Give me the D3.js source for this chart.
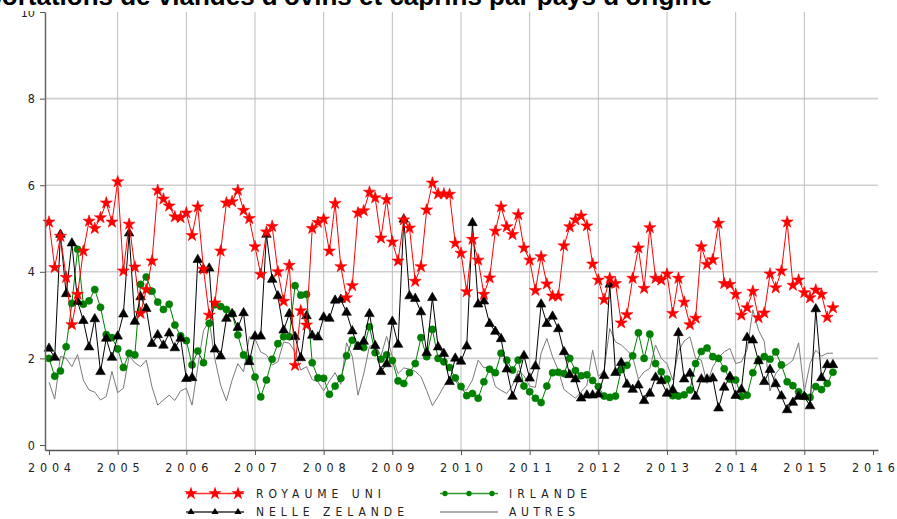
<!DOCTYPE html>
<html>
<head>
<meta charset="utf-8">
<script src="https://cdn.jsdelivr.net/npm/d3@7"></script>
<style>
  body { margin: 0; background: #fff; }
  svg { display: block; }
  .axis text { font-family: 'DejaVu Sans Condensed', 'DejaVu Sans', sans-serif; font-stretch: condensed; fill: #222; }
  .legend text { font-family: 'DejaVu Sans Condensed', 'DejaVu Sans', sans-serif; font-stretch: condensed; fill: #222; }
</style>
</head>
<body>
<div id="chart"></div>
<script>
// monthly values, Jan 2004 -> Jun 2015
const ukValues = [
  5.15, 4.10, 4.82, 3.87, 2.78, 3.48, 4.48, 5.17, 5.00, 5.25, 5.59, 5.15, 6.08, 4.02, 5.10, 4.11, 3.04, 3.59, 4.25, 5.88, 5.68, 5.52, 5.27,
  5.25, 5.36, 4.84, 5.50, 4.06, 3.00, 3.28, 4.48, 5.59, 5.62, 5.88, 5.42, 5.23, 4.58, 3.94, 4.92, 5.05, 4.00, 3.32, 4.15, 1.84, 3.10, 2.77,
  5.00, 5.14, 5.22, 4.48, 5.58, 4.12, 3.40, 3.68, 5.36, 5.41, 5.84, 5.71, 4.78, 5.67, 4.69, 4.25, 5.20, 5.01, 3.78, 4.12, 5.43, 6.05, 5.80, 5.80,
  5.79, 4.66, 4.43, 3.54, 4.75, 4.27, 3.48, 3.86, 4.94, 5.50, 5.04, 4.86, 5.32, 4.55, 4.27, 3.57, 4.35, 3.72, 3.44, 3.44, 4.60, 5.04, 5.20, 5.29,
  5.06, 4.18, 3.81, 3.36, 3.85, 3.73, 2.82, 3.01, 3.85, 4.55, 3.62, 5.02, 3.85, 3.81, 3.95, 3.04, 3.85, 3.30, 2.78, 2.93, 4.58, 4.17, 4.28,
  5.12, 3.73, 3.71, 3.48, 3.00, 3.17, 3.55, 2.94, 3.05, 3.95, 3.63, 4.02, 5.15, 3.69, 3.81, 3.52, 3.40, 3.58, 3.48, 2.95, 3.17
];
const nzValues = [
  2.23, 2.02, 4.86, 3.49, 4.66, 3.31, 2.87, 2.26, 2.91, 1.69, 2.46, 2.02, 2.51, 3.02, 4.89, 2.85, 3.42, 3.15, 2.34, 2.54, 2.30, 2.58, 2.24,
  2.46, 1.53, 1.55, 4.28, 4.05, 4.08, 2.21, 2.05, 2.92, 3.03, 2.71, 3.05, 1.92, 2.51, 2.51, 4.86, 3.82, 3.44, 2.65, 3.03, 2.50, 2.01, 2.98,
  2.53, 2.49, 2.95, 2.92, 3.34, 3.36, 3.06, 2.63, 2.27, 2.39, 3.03, 2.29, 1.69, 1.87, 2.85, 2.32, 5.21, 3.44, 3.38, 3.07, 2.13, 3.40, 2.26, 2.11,
  1.46, 2.00, 1.93, 2.28, 5.13, 3.25, 3.32, 2.80, 2.62, 2.45, 1.75, 1.12, 1.52, 2.06, 1.54, 1.82, 3.25, 2.80, 2.97, 2.68, 2.15, 1.62, 1.52, 1.08,
  1.15, 1.15, 1.17, 1.60, 3.71, 1.67, 1.90, 1.40, 1.28, 1.38, 1.02, 1.19, 1.56, 1.48, 1.19, 1.27, 2.59, 1.52, 1.65, 1.12, 1.52, 1.52, 1.54,
  0.85, 1.33, 1.58, 1.14, 1.28, 2.48, 2.42, 1.94, 1.46, 1.74, 1.41, 1.13, 0.81, 0.98, 1.12, 1.12, 0.90, 3.14, 1.55, 1.85, 1.85
];
const ieValues = [
  2.00, 1.59, 1.71, 2.27, 3.27, 4.52, 3.25, 3.33, 3.59, 3.18, 2.55, 2.48, 2.22, 1.79, 2.12, 2.08, 3.71, 3.88, 3.55, 3.30, 3.13, 3.25, 2.77,
  2.52, 2.41, 1.85, 2.17, 1.90, 2.81, 3.24, 3.20, 3.13, 3.03, 2.54, 2.08, 1.99, 1.57, 1.11, 1.50, 1.98, 2.34, 2.50, 2.50, 3.68, 3.46, 3.48,
  1.90, 1.55, 1.54, 1.17, 1.36, 1.54, 2.06, 2.42, 2.29, 2.25, 2.73, 2.13, 1.98, 2.08, 1.95, 1.48, 1.42, 1.67, 1.88, 2.48, 2.04, 2.67, 2.00, 1.92,
  1.79, 1.55, 1.35, 1.14, 1.19, 1.08, 1.46, 1.75, 1.67, 2.12, 1.96, 1.73, 1.96, 1.36, 1.23, 1.08, 0.98, 1.36, 1.67, 1.68, 1.65, 2.00, 1.72, 1.60,
  1.62, 1.49, 1.35, 1.13, 1.10, 1.13, 1.74, 1.84, 2.06, 2.59, 2.00, 2.56, 1.88, 1.69, 1.52, 1.14, 1.13, 1.16, 1.27, 1.88, 2.16, 2.24, 2.04,
  2.00, 1.76, 1.52, 1.50, 1.12, 1.15, 1.67, 1.95, 2.04, 1.98, 2.15, 1.85, 1.46, 1.37, 1.23, 1.12, 1.10, 1.35, 1.28, 1.42, 1.68
];
const otherValues = [
  1.45, 1.06, 2.05, 2.00, 1.81, 2.09, 1.50, 1.27, 1.22, 1.04, 1.12, 1.70, 1.21, 1.31, 2.06, 1.90, 1.81, 1.96, 1.34, 0.92, 1.04, 1.15, 1.03,
  1.25, 1.31, 0.92, 1.81, 2.64, 2.87, 1.98, 1.38, 1.02, 1.50, 1.88, 1.69, 2.50, 2.45, 2.15, 2.08, 1.85, 1.92, 2.38, 2.35, 2.15, 1.73, 1.81,
  1.51, 1.46, 1.25, 1.48, 1.67, 1.40, 2.36, 2.05, 1.15, 1.64, 2.28, 2.33, 2.05, 2.51, 2.04, 1.65, 1.78, 1.75, 1.70, 1.58, 1.26, 0.91, 1.12, 1.35,
  1.54, 1.50, 1.27, 1.27, 1.50, 1.96, 1.78, 1.82, 1.35, 1.26, 1.19, 1.38, 1.72, 1.60, 1.36, 1.33, 2.12, 2.46, 2.04, 1.73, 1.28, 1.18, 1.08, 1.23,
  1.38, 2.19, 1.58, 1.73, 2.69, 2.38, 2.31, 2.19, 2.04, 1.52, 1.69, 1.77, 2.31, 2.00, 1.88, 1.50,
  2.17, 2.40, 2.50, 2.00, 1.96, 1.42, 1.80, 2.02, 2.15, 2.23, 1.88, 1.92, 2.20, 3.12, 2.65, 2.39, 1.25, 1.65, 1.81, 1.85, 1.96, 2.36, 1.23, 1.88, 2.19, 2.05, 2.12, 2.12
];
const seriesNames = ['ROYAUME UNI', 'NELLE ZELANDE', 'IRLANDE', 'AUTRES'];
const yearTicks = d3.range(2004, 2017);
const yTicks = [0, 2, 4, 6, 8, 10];
const title = "Importations de viandes d'ovins et caprins par pays d'origine";

const width = 897,
  height = 519;

const svg = d3.select('#chart').append('svg').attr('width', width).attr('height', height);

const x = d3.scaleLinear().domain([2004 - 4 / 68.67, 2016 + 5 / 68.67]).range([45, 878]);
const y = d3.scaleLinear().domain([-5 / 43.35, 10]).range([450, 12]);
const monthX = (d, i) => x(2004 + i / 12);

const series = [
  { name: seriesNames[0], values: ukValues, color: '#ff0000', marker: 'star' },
  { name: seriesNames[1], values: nzValues, color: '#000000', marker: 'triangle' },
  { name: seriesNames[2], values: ieValues, color: '#008000', marker: 'circle' },
  { name: seriesNames[3], values: otherValues, color: '#7a7a7a', marker: null }
];

const symbols = {
  star: d3.symbol().type(d3.symbolStar).size(45),
  triangle: d3.symbol().type(d3.symbolTriangle).size(40),
  circle: d3.symbol().type(d3.symbolCircle).size(40)
};

// grid
const grid = svg.append('g');
grid.selectAll('.hgrid')
  .data([2, 4, 6, 8])
  .join('line')
  .attr('class', 'hgrid')
  .attr('x1', 45).attr('x2', 878)
  .attr('y1', d => y(d)).attr('y2', d => y(d))
  .attr('stroke', '#cfcfcf').attr('stroke-width', 1.6);
grid.selectAll('.vgrid')
  .data(d3.range(2005, 2016))
  .join('line')
  .attr('class', 'vgrid')
  .attr('x1', d => x(d)).attr('x2', d => x(d))
  .attr('y1', y(10)).attr('y2', 450)
  .attr('stroke', '#bdbdbd').attr('stroke-width', 1);

// lines, drawn back to front
const plot = svg.append('g');
const line = d3.line().x(monthX).y(d => y(d));
series.slice().reverse().forEach(s => {
  const g = plot.append('g');
  g.append('path')
    .datum(s.values)
    .attr('d', line)
    .attr('fill', 'none')
    .attr('stroke', s.color)
    .attr('stroke-width', 1);
  if (s.marker) {
    g.selectAll('path.mark')
      .data(s.values)
      .join('path')
      .attr('class', 'mark')
      .attr('transform', (d, i) => `translate(${monthX(d, i)},${y(d)})`)
      .attr('d', symbols[s.marker]())
      .attr('fill', s.color)
      .attr('stroke', s.color)
      .attr('stroke-width', 0.6);
  }
});

// axes
const xAxis = svg.append('g')
  .attr('class', 'axis')
  .attr('transform', 'translate(0,450)')
  .call(d3.axisBottom(x).tickValues(yearTicks).tickSize(5).tickSizeOuter(0).tickFormat(d3.format('d')));
xAxis.select('.domain').attr('stroke', '#555').attr('stroke-width', 1.5);
xAxis.selectAll('.tick line').attr('stroke', '#555');
xAxis.selectAll('.tick text')
  .attr('y', 22).attr('dy', 0)
  .attr('font-size', 12.5)
  .attr('textLength', 43).attr('lengthAdjust', 'spacing');

const yAxis = svg.append('g')
  .attr('class', 'axis')
  .attr('transform', 'translate(45,0)')
  .call(d3.axisLeft(y).tickValues(yTicks).tickSize(5).tickSizeOuter(0));
yAxis.select('.domain').attr('stroke', '#666').attr('stroke-width', 1.5);
yAxis.selectAll('.tick line').attr('stroke', '#555');
yAxis.selectAll('.tick text').attr('x', -10).attr('font-size', 12.5);

// top band + title (cut off by the frame)
svg.append('rect').attr('x', 0).attr('y', 0).attr('width', width).attr('height', 11).attr('fill', '#fff');
svg.append('text')
  .attr('x', 712).attr('y', 4.5)
  .attr('text-anchor', 'end')
  .style('font', 'bold 26px "Liberation Sans", Arial, sans-serif')
  .text(title);

// legend
const legendPos = [
  { x: 186, y: 493.5, tx: 256, len: 125 },
  { x: 186, y: 512, tx: 256, len: 148 },
  { x: 440, y: 493.5, tx: 509, len: 78 },
  { x: 440, y: 512, tx: 509, len: 66 }
];
const legendSymbols = {
  star: d3.symbol().type(d3.symbolStar).size(55),
  triangle: d3.symbol().type(d3.symbolTriangle).size(22),
  circle: d3.symbol().type(d3.symbolCircle).size(22)
};
const legend = svg.append('g').attr('class', 'legend');
series.forEach((s, k) => {
  const p = legendPos[k];
  const g = legend.append('g').attr('transform', `translate(${p.x},${p.y})`);
  g.append('line').attr('x1', 0).attr('x2', 58).attr('y1', 0).attr('y2', 0)
    .attr('stroke', s.color).attr('stroke-width', s.marker ? 1.5 : 2).attr('opacity', s.marker ? 0.8 : 0.6);
  if (s.marker) {
    g.selectAll('path')
      .data([5, 29, 52])
      .join('path')
      .attr('transform', d => `translate(${d},0)`)
      .attr('d', legendSymbols[s.marker]())
      .attr('fill', s.color);
  }
  legend.append('text')
    .attr('x', p.tx).attr('y', p.y + 4.2)
    .attr('font-size', 12)
    .attr('textLength', p.len).attr('lengthAdjust', 'spacing')
    .text(s.name);
});
</script>
</body>
</html>
